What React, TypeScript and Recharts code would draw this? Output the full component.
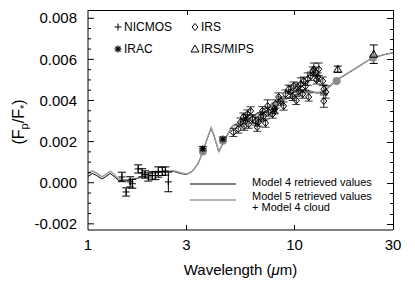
import React from "react";
import { ComposedChart, Line, Scatter, XAxis, YAxis, ErrorBar, Legend } from "recharts";

const FONT = "'Liberation Sans', Arial, Helvetica, sans-serif";

// model spectra (wavelength in micron, planet/star flux ratio)
const modelWave = [
  1.0, 1.05, 1.1, 1.17, 1.22, 1.28, 1.34, 1.4, 1.5, 1.6, 1.75, 1.9, 2.05, 2.2, 2.4, 2.6, 2.8, 3.0,
  3.2, 3.4, 3.6, 3.8, 3.95, 4.1, 4.3, 4.5, 4.7, 5.0, 5.5, 6.0, 6.5, 7.0, 7.5, 8.0, 8.5, 9.0, 9.5,
  10.0, 10.5, 11.0, 11.5, 12.0, 12.5, 13.0, 14.0, 15.0, 16.0, 18.0, 20.0, 22.0, 24.0, 27.0, 30.0,
];
const model4 = [
  0.0003, 0.00045, 0.00035, 0.00018, 0.0003, 0.00045, 0.0003, 0.00012, 0.0001, 0.00012, 0.00022,
  0.00035, 0.00045, 0.0005, 0.00052, 0.00055, 0.00045, 0.0004, 0.00055, 0.0009, 0.0015, 0.0022,
  0.00265, 0.0022, 0.0015, 0.0019, 0.00225, 0.00275, 0.00295, 0.00312, 0.0033, 0.00352, 0.00368,
  0.00382, 0.00393, 0.00405, 0.00415, 0.00425, 0.00433, 0.0044, 0.00445, 0.00443, 0.00438, 0.00436,
  0.00445, 0.00472, 0.00498, 0.0053, 0.00558, 0.00585, 0.00608, 0.00622, 0.00632,
];
const model5 = [
  0.00042, 0.00058, 0.00046, 0.00028, 0.0004, 0.00056, 0.0004, 0.0002, 0.00014, 0.00015, 0.00024,
  0.00036, 0.00046, 0.00052, 0.00055, 0.00058, 0.00048, 0.00042, 0.00056, 0.0009, 0.00152, 0.00222,
  0.00268, 0.00222, 0.00152, 0.00192, 0.00228, 0.00275, 0.00297, 0.00314, 0.00332, 0.00352, 0.0037,
  0.00384, 0.00396, 0.00406, 0.00417, 0.00427, 0.00436, 0.00444, 0.00448, 0.00446, 0.00441, 0.00439,
  0.00448, 0.00475, 0.005, 0.00532, 0.0056, 0.00586, 0.00608, 0.00622, 0.00632,
];

// band-integrated model points
const bandWave = [3.6, 4.5, 5.8, 8.0, 16.0, 24.0];
const bandFlux = [0.00152, 0.00204, 0.003, 0.00375, 0.00495, 0.00608];

// NICMOS
const nicmosWave = [1.46, 1.53, 1.6, 1.64, 1.75, 1.83, 1.89, 1.96, 2.05, 2.12, 2.19, 2.29, 2.37, 2.45];
const nicmosFlux = [
  0.00028, -0.00045, 0.00004, -0.00005, 0.00067, 0.00048, 0.0004, 0.00028, 0.00035, 0.00035, 0.00052,
  0.00055, 0.00057, 0.00004,
];
const nicmosErr = [
  0.00023, 0.0002, 0.00025, 0.00022, 0.0002, 0.0002, 0.00018, 0.0002, 0.00018, 0.0002, 0.00025, 0.0002,
  0.0002, 0.00048,
];

// IRAC
const iracWave = [3.6, 4.5, 5.8, 8.0];
const iracFlux = [0.00165, 0.00212, 0.0031, 0.00355];
const iracErr = [0.0001, 0.0001, 0.0002, 0.0002];

// IRS spectrum
const irsWave = [
  5.06, 5.34, 5.48, 5.66, 5.7, 5.92, 6.0, 6.13, 6.26, 6.48, 6.6, 6.7, 6.85, 7.0, 7.09, 7.24, 7.41,
  7.49, 7.84, 8.0, 8.1, 8.38, 8.57, 8.86, 9.06, 9.37, 9.58, 9.8, 9.91, 10.2, 10.36, 10.48, 10.72,
  10.96, 11.08, 11.3, 11.59, 11.72, 11.99, 12.26, 12.4, 12.68, 12.8, 12.97, 13.11, 13.71, 13.87, 14.18,
  13.87,
];
const irsFlux = [
  0.00245, 0.00261, 0.00295, 0.00319, 0.00275, 0.00334, 0.00285, 0.00349, 0.0031, 0.003, 0.0027,
  0.00295, 0.00319, 0.0035, 0.00324, 0.0029, 0.00373, 0.00344, 0.00334, 0.0036, 0.00383, 0.00417,
  0.00397, 0.00373, 0.00431, 0.00455, 0.00441, 0.0042, 0.0047, 0.004, 0.00465, 0.00446, 0.0048,
  0.00431, 0.00494, 0.0047, 0.00504, 0.00417, 0.00518, 0.00543, 0.00552, 0.00538, 0.005, 0.00514,
  0.00552, 0.00494, 0.00455, 0.00441, 0.00397,
];
const irsErr = [
  0.0002, 0.0002, 0.0002, 0.0002, 0.0002, 0.0002, 0.0002, 0.0002, 0.0002, 0.0002, 0.0002, 0.0002,
  0.0002, 0.0002, 0.0002, 0.0002, 0.0003, 0.0002, 0.0002, 0.0002, 0.0002, 0.0002, 0.0002, 0.0002,
  0.0002, 0.0002, 0.0003, 0.0002, 0.0002, 0.0002, 0.0002, 0.0002, 0.0003, 0.0002, 0.0002, 0.0002,
  0.0003, 0.0002, 0.0002, 0.0002, 0.0003, 0.0002, 0.0002, 0.0002, 0.0003, 0.0002, 0.0002, 0.0003,
  0.0003,
];

// IRS / MIPS photometry
const mipsWave = [16.2, 24.2];
const mipsFlux = [0.00552, 0.00625];
const mipsErr = [0.00015, 0.00045];

const xTicks = [1, 3, 10, 30];
const xTickLabels = ["1", "3", "10", "30"];
const yTicks = [
  -0.002, -0.0015, -0.001, -0.0005, 0, 0.0005, 0.001, 0.0015, 0.002, 0.0025, 0.003, 0.0035, 0.004,
  0.0045, 0.005, 0.0055, 0.006, 0.0065, 0.007, 0.0075, 0.008,
];
const yLabeled = [-0.002, 0, 0.002, 0.004, 0.006, 0.008];

const legendTop = ["NICMOS", "IRS", "IRAC", "IRS/MIPS"];
const legendModels = ["Model 4 retrieved values", "Model 5 retrieved values", "+ Model 4 cloud"];

// layout
const W = 415;
const H = 283;
const MARGIN = { top: 10, right: 22, bottom: 0, left: 0 };
const Y_AXIS_W = 88;
const X_AXIS_H = 53;
const Y_DOMAIN: [number, number] = [-0.0023, 0.0084];
const X_DOMAIN: [number, number] = [1, 30];
const PLOT_LEFT = MARGIN.left + Y_AXIS_W;
const PLOT_TOP = MARGIN.top;
const PLOT_RIGHT = W - MARGIN.right;
const PLOT_BOTTOM = H - MARGIN.bottom - X_AXIS_H;

const yPix = (v: number) =>
  PLOT_BOTTOM - ((v - Y_DOMAIN[0]) / (Y_DOMAIN[1] - Y_DOMAIN[0])) * (PLOT_BOTTOM - PLOT_TOP);
const xPix = (v: number) =>
  PLOT_LEFT +
  (Math.log(v / X_DOMAIN[0]) / Math.log(X_DOMAIN[1] / X_DOMAIN[0])) * (PLOT_RIGHT - PLOT_LEFT);

const pairs = (xs: number[], ys: number[], es?: number[]) =>
  xs.map((x, i) => ({ x, y: ys[i], e: es ? es[i] : 0 }));

const PlusMark = ({ cx, cy }: any) => (
  <g stroke="#000" strokeWidth={1}>
    <line x1={cx - 3.5} x2={cx + 3.5} y1={cy} y2={cy} />
    <line x1={cx} x2={cx} y1={cy - 3.5} y2={cy + 3.5} />
  </g>
);
const DiamondMark = ({ cx, cy }: any) => (
  <polygon
    points={`${cx},${cy - 3.5} ${cx + 3},${cy} ${cx},${cy + 3.5} ${cx - 3},${cy}`}
    fill="none"
    stroke="#000"
    strokeWidth={1}
  />
);
const StarMark = ({ cx, cy }: any) => (
  <g stroke="#000" strokeWidth={1.2}>
    <line x1={cx - 3.5} x2={cx + 3.5} y1={cy} y2={cy} />
    <line x1={cx} x2={cx} y1={cy - 3.5} y2={cy + 3.5} />
    <line x1={cx - 2.5} x2={cx + 2.5} y1={cy - 2.5} y2={cy + 2.5} />
    <line x1={cx - 2.5} x2={cx + 2.5} y1={cy + 2.5} y2={cy - 2.5} />
  </g>
);
const TriMark = ({ cx, cy }: any) => (
  <polygon
    points={`${cx},${cy - 4} ${cx + 4},${cy + 3} ${cx - 4},${cy + 3}`}
    fill="none"
    stroke="#000"
    strokeWidth={1}
  />
);
const BandDot = ({ cx, cy }: any) => <circle cx={cx} cy={cy} r={4} fill="#8c8c8c" />;

const isLabeled = (v: number) => yLabeled.some((t) => Math.abs(t - v) < 1e-9);

const LeftTick = ({ x, y, payload }: any) => {
  const len = isLabeled(payload.value) ? 6 : 3;
  return (
    <g>
      <line x1={x} x2={x + len} y1={y} y2={y} stroke="#000" />
      {len === 6 && (
        <text x={x - 11} y={y} dy="0.35em" textAnchor="end" fontSize={15} fontFamily={FONT} fill="#000">
          {payload.value.toFixed(3)}
        </text>
      )}
    </g>
  );
};
const BottomTick = ({ x, y, index }: any) => {
  const inner = index > 0 && index < xTicks.length - 1;
  return (
    <g>
      {inner && <line x1={x} x2={x} y1={y} y2={y - 5} stroke="#000" />}
      <text x={x} y={y + 15} dy="0.35em" textAnchor="middle" fontSize={15} fontFamily={FONT} fill="#000">
        {xTickLabels[index]}
      </text>
    </g>
  );
};

const Overlay = () => (
  <svg width={W} height={H} style={{ position: "absolute", left: 0, top: 0 }}>
    {/* inward ticks on the right and top sides of the frame */}
    {yTicks.map((t) => {
      const y = Math.round(yPix(t)) + 0.5;
      const len = isLabeled(t) ? 6 : 3;
      return <line key={t} x1={PLOT_RIGHT} x2={PLOT_RIGHT - len} y1={y} y2={y} stroke="#000" strokeWidth={1} />;
    })}
    {xTicks.slice(1, -1).map((t) => {
      const x = Math.round(xPix(t)) + 0.5;
      return <line key={t} x1={x} x2={x} y1={PLOT_TOP} y2={PLOT_TOP + 5} stroke="#000" strokeWidth={1} />;
    })}
    <g fontFamily={FONT} fontSize={12} fill="#000">
      <PlusMark cx={118} cy={27} />
      <text x={124} y={27} dy="0.35em">{legendTop[0]}</text>
      <DiamondMark cx={195} cy={27} />
      <text x={201} y={27} dy="0.35em">{legendTop[1]}</text>
      <StarMark cx={118} cy={49} />
      <text x={124} y={49} dy="0.35em">{legendTop[2]}</text>
      <TriMark cx={195} cy={49} />
      <text x={201} y={49} dy="0.35em">{legendTop[3]}</text>
    </g>
    <g fontFamily={FONT} fontSize={11} fill="#000">
      <line x1={190} x2={236} y1={184} y2={184} stroke="#000" />
      <text x={252} y={182} dy="0.35em">{legendModels[0]}</text>
      <line x1={190} x2={236} y1={200} y2={200} stroke="#9a9a9a" strokeWidth={1.5} />
      <text x={252} y={196} dy="0.35em">{legendModels[1]}</text>
      <text x={252} y={207} dy="0.35em">{legendModels[2]}</text>
    </g>
  </svg>
);

export default function App() {
  return (
    <div style={{ position: "absolute", left: 0, top: 0, width: W, height: H, background: "#fff" }}>
      <ComposedChart width={W} height={H} margin={MARGIN}>
        <XAxis
          dataKey="x"
          type="number"
          scale="log"
          domain={X_DOMAIN}
          allowDataOverflow
          ticks={xTicks}
          interval={0}
          tickSize={0}
          tickMargin={0}
          tickLine={false}
          tick={<BottomTick />}
          height={X_AXIS_H}
          axisLine={{ stroke: "#000" }}
          label={{
            content: ({ viewBox }: any) => (
              <text
                x={viewBox.x + viewBox.width / 2}
                y={viewBox.y + 40}
                dy="0.35em"
                textAnchor="middle"
                fontSize={15}
                fontFamily={FONT}
                fill="#000"
              >
                Wavelength (<tspan fontStyle="italic">μ</tspan>m)
              </text>
            ),
          }}
        />
        <YAxis
          dataKey="y"
          type="number"
          domain={Y_DOMAIN}
          allowDataOverflow
          ticks={yTicks}
          interval={0}
          tickSize={0}
          tickMargin={0}
          tickLine={false}
          tick={<LeftTick />}
          width={Y_AXIS_W}
          axisLine={{ stroke: "#000" }}
          label={{
            content: ({ viewBox }: any) => {
              const cy = viewBox.y + viewBox.height / 2 + 2;
              return (
                <text
                  transform={`rotate(-90, 18, ${cy})`}
                  x={18}
                  y={cy}
                  dy="0.35em"
                  textAnchor="middle"
                  fontSize={16}
                  fontFamily={FONT}
                  fill="#000"
                >
                  (F<tspan fontSize={11} dy={4}>p</tspan>
                  <tspan dy={-4}>/F</tspan>
                  <tspan fontSize={11} dy={4}>*</tspan>
                  <tspan dy={-4}>)</tspan>
                </text>
              );
            },
          }}
        />
        <Line
          data={pairs(modelWave, model4)}
          dataKey="y"
          stroke="#000"
          strokeWidth={1}
          dot={false}
          isAnimationActive={false}
        />
        <Line
          data={pairs(modelWave, model5)}
          dataKey="y"
          stroke="#9a9a9a"
          strokeWidth={1.5}
          dot={false}
          isAnimationActive={false}
        />
        <Scatter
          data={pairs(bandWave, bandFlux)}
          dataKey="y"
          shape={(p: any) => <BandDot cx={p.cx} cy={p.cy} />}
          isAnimationActive={false}
        />
        <Scatter
          data={pairs(nicmosWave, nicmosFlux, nicmosErr)}
          dataKey="y"
          shape={(p: any) => <PlusMark cx={p.cx} cy={p.cy} />}
          isAnimationActive={false}
        >
          <ErrorBar dataKey="e" direction="y" width={4} stroke="#000" strokeWidth={1} />
        </Scatter>
        <Scatter
          data={pairs(irsWave, irsFlux, irsErr)}
          dataKey="y"
          shape={(p: any) => <DiamondMark cx={p.cx} cy={p.cy} />}
          isAnimationActive={false}
        >
          <ErrorBar dataKey="e" direction="y" width={4} stroke="#000" strokeWidth={0.8} />
        </Scatter>
        <Scatter
          data={pairs(iracWave, iracFlux, iracErr)}
          dataKey="y"
          shape={(p: any) => <StarMark cx={p.cx} cy={p.cy} />}
          isAnimationActive={false}
        >
          <ErrorBar dataKey="e" direction="y" width={4} stroke="#000" strokeWidth={1} />
        </Scatter>
        <Scatter
          data={pairs(mipsWave, mipsFlux, mipsErr)}
          dataKey="y"
          shape={(p: any) => <TriMark cx={p.cx} cy={p.cy} />}
          isAnimationActive={false}
        >
          <ErrorBar dataKey="e" direction="y" width={4} stroke="#000" strokeWidth={1} />
        </Scatter>
        <Legend
          layout="horizontal"
          verticalAlign="middle"
          align="center"
          wrapperStyle={{ left: 0, top: 0, width: W, height: H, pointerEvents: "none" }}
          content={() => <Overlay />}
        />
      </ComposedChart>
      {/* top and right sides of the plot frame */}
      <div
        style={{
          position: "absolute",
          left: PLOT_LEFT,
          top: PLOT_TOP,
          width: PLOT_RIGHT - PLOT_LEFT + 1,
          height: PLOT_BOTTOM - PLOT_TOP,
          borderTop: "1px solid #000",
          borderRight: "1px solid #000",
          boxSizing: "border-box",
          pointerEvents: "none",
          zIndex: 5,
        }}
      />
    </div>
  );
}
